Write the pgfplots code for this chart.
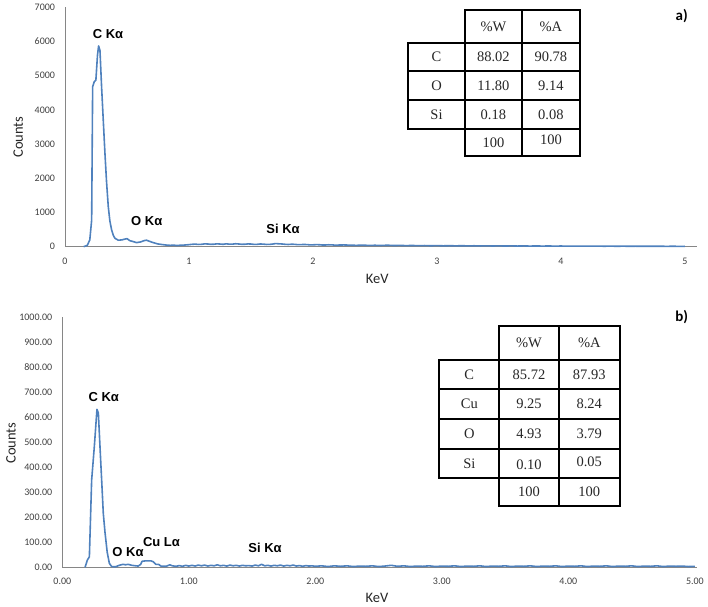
\documentclass[border=0pt]{standalone}
\usepackage{fontspec}
\setmainfont{Carlito}
\newfontfamily\arialb{Liberation Sans}[BoldFont=* Bold]
\newfontfamily\tabfont{Liberation Serif}
\usepackage{pgfplots}
\pgfplotsset{compat=1.18}

\definecolor{spec}{HTML}{4F81BD}
\definecolor{axgray}{HTML}{868686}
\definecolor{ticktext}{HTML}{404040}

\pgfplotsset{
  eds/.style={
    scale only axis,
    axis x line=bottom, axis y line=left,
    axis line style={-, draw=axgray, line width=1pt},
    major tick length=0pt,
    tick label style={font=\fontsize{10}{12}\selectfont, text=ticktext},
    /pgf/number format/assume math mode=true,
    /pgf/number format/1000 sep={},
    yticklabel style={xshift=-6.5pt},
    xticklabel style={yshift=-7.5pt},
    clip=false,
  },
  spectrum/.style={spec, line width=1.6pt, no marks, line join=round},
}

\begin{document}
\begin{tikzpicture}
\useasboundingbox (0pt,0pt) rectangle (708pt,-606pt);

% ---------------- a) ----------------
\begin{axis}[eds,
  at={(65pt,-246.7pt)}, anchor=south west,
  width=632pt, height=239.4pt,
  xmin=0, xmax=5.097, ymin=0, ymax=7000,
  xtick={0,1,2,3,4,5},
  ytick={0,1000,2000,3000,4000,5000,6000,7000},
]
\addplot[spectrum] coordinates {
 (0.15,0) (0.18,40) (0.20,200) (0.215,780) (0.223,4680) (0.236,4825)
 (0.249,4870) (0.262,5600) (0.271,5870) (0.282,5740) (0.295,4680)
 (0.31,3600) (0.322,2740) (0.335,1900) (0.349,1170) (0.362,750)
 (0.376,490) (0.39,330) (0.403,245) (0.43,190) (0.46,200) (0.48,220)
 (0.50,235) (0.524,175) (0.55,150) (0.577,120) (0.61,140) (0.64,180)
 (0.658,190) (0.68,160) (0.711,120) (0.75,80) (0.79,60) (0.825,45)
 (0.85,40) (0.875,48) (0.90,35) (0.925,42) (0.95,45) (0.975,52)
 (1.00,60) (1.025,70) (1.05,75) (1.075,66) (1.10,70) (1.125,82)
 (1.15,80) (1.175,70) (1.20,72) (1.225,84) (1.25,78) (1.275,70)
 (1.30,85) (1.325,74) (1.35,75) (1.375,86) (1.40,80) (1.425,70)
 (1.45,72) (1.475,82) (1.50,78) (1.525,68) (1.55,70) (1.575,80)
 (1.60,75) (1.625,66) (1.65,68) (1.675,78) (1.70,92) (1.725,84)
 (1.75,80) (1.775,70) (1.80,65) (1.825,72) (1.85,70) (1.875,60)
 (1.90,60) (1.925,66) (1.95,62) (1.975,54) (2.00,55) (2.025,60)
 (2.05,58) (2.075,50) (2.10,50) (2.125,56) (2.15,55) (2.175,46)
 (2.20,48) (2.25,52) (2.30,45) (2.35,40) (2.40,46) (2.45,38)
 (2.50,42) (2.55,36) (2.60,44) (2.65,35) (2.70,38) (2.75,32)
 (2.80,36) (2.85,30) (2.90,34) (2.95,28) (3.00,32) (3.05,26)
 (3.10,30) (3.15,25) (3.20,29) (3.25,24) (3.30,27) (3.35,22)
 (3.40,26) (3.45,21) (3.50,25) (3.55,20) (3.60,24) (3.65,19)
 (3.70,23) (3.75,18) (3.80,22) (3.85,18) (3.90,21) (3.95,17)
 (4.00,20) (4.05,16) (4.10,19) (4.15,15) (4.20,18) (4.25,15)
 (4.30,17) (4.35,14) (4.40,17) (4.45,13) (4.50,16) (4.55,13)
 (4.60,15) (4.65,12) (4.70,15) (4.75,12) (4.80,14) (4.85,11)
 (4.90,13) (4.95,11) (5.00,12)
};
\end{axis}

% ---------------- b) ----------------
\begin{axis}[eds,
  at={(62.3pt,-567.3pt)}, anchor=south west,
  width=634.7pt, height=250pt,
  xmin=0, xmax=5.017, ymin=0, ymax=1000,
  xtick={0,1,2,3,4,5},
  ytick={0,100,200,300,400,500,600,700,800,900,1000},
  /pgf/number format/fixed, /pgf/number format/fixed zerofill,
  /pgf/number format/precision=2,
]
\addplot[spectrum] coordinates {
 (0.18,0) (0.198,29) (0.214,42) (0.232,349) (0.253,482) (0.274,632)
 (0.285,617) (0.298,482) (0.311,350) (0.324,216) (0.338,137)
 (0.355,60) (0.372,16) (0.39,3) (0.42,2) (0.45,8) (0.48,12) (0.50,10)
 (0.52,12) (0.55,8) (0.58,6) (0.60,5) (0.62,12) (0.63,24) (0.66,26)
 (0.70,26) (0.72,22) (0.74,12) (0.76,12) (0.78,5) (0.82,4) (0.85,10)
 (0.87,6) (0.90,4) (0.925,7) (0.95,4) (0.975,8) (1.00,5) (1.025,8)
 (1.05,5) (1.075,9) (1.10,6) (1.125,9) (1.15,5) (1.175,8) (1.20,6)
 (1.225,10) (1.25,6) (1.275,8) (1.30,5) (1.325,9) (1.35,6) (1.375,8)
 (1.40,5) (1.425,8) (1.45,6) (1.475,7) (1.50,5) (1.525,9) (1.55,6)
 (1.575,12) (1.60,6) (1.625,8) (1.65,5) (1.675,8) (1.70,6) (1.725,9)
 (1.75,5) (1.775,8) (1.80,6) (1.825,9) (1.85,5) (1.875,7) (1.90,4)
 (1.925,7) (1.95,5) (1.975,6) (2.00,4) (2.05,6) (2.10,3) (2.15,6)
 (2.20,4) (2.25,6) (2.30,3) (2.35,5) (2.40,4) (2.45,6) (2.50,3)
 (2.55,5) (2.60,8) (2.65,4) (2.70,6) (2.75,3) (2.80,5) (2.85,4)
 (2.90,6) (2.95,3) (3.00,5) (3.05,4) (3.10,6) (3.15,3) (3.20,5)
 (3.25,4) (3.30,6) (3.35,3) (3.40,5) (3.45,4) (3.50,6) (3.55,3)
 (3.60,5) (3.65,4) (3.70,6) (3.75,3) (3.80,5) (3.85,4) (3.90,6)
 (3.95,3) (4.00,5) (4.05,4) (4.10,6) (4.15,3) (4.20,5) (4.25,4)
 (4.30,6) (4.35,3) (4.40,5) (4.45,4) (4.50,6) (4.55,3) (4.60,5)
 (4.65,4) (4.70,6) (4.75,3) (4.80,5) (4.85,4) (4.90,5) (4.95,3)
 (5.00,4)
};
\end{axis}

% axis titles, peak labels, tables
\begin{scope}[x=1pt, y=-1pt]
\tikzset{
  ax/.style={font=\fontsize{14.5}{16}\selectfont, text=black!85},
  pk/.style={font=\arialb\bfseries\fontsize{13}{15}\selectfont},
  cell/.style={font=\tabfont\fontsize{14.5}{16}\selectfont, text=black!85},
  tab/.style={line width=1.7pt, line cap=rect},
}
\node[ax, rotate=90] at (18.3,137) {Counts};
\node[ax] at (377.3,279) {KeV};
\node[ax, rotate=90] at (11,443) {Counts};
\node[ax] at (377,598.3) {KeV};

\node[pk] at (108,34) {C Kα};
\node[pk] at (146.7,221) {O Kα};
\node[pk] at (283,229) {Si Kα};
\node[pk] at (103.8,397.3) {C Kα};
\node[pk] at (128,551.7) {O Kα};
\node[pk] at (161.5,542.3) {Cu Lα};
\node[pk] at (265,548.3) {Si Kα};

\node[font=\bfseries\fontsize{15}{17}\selectfont] at (681.7,16) {a)};
\node[font=\bfseries\fontsize{15}{17}\selectfont] at (681.7,317) {b)};

% table a
\draw[tab] (465,10) rectangle (580,156);
\draw[tab] (408,43.3) rectangle (580,129);
\draw[tab] (521.7,10) -- (521.7,156);
\draw[tab] (465,10) -- (465,156);
\draw[tab] (408,71) -- (580,71);
\draw[tab] (408,100) -- (580,100);
\node[cell] at (493.4,26.7) {\%W};
\node[cell] at (550.9,26.7) {\%A};
\node[cell] at (436.5,57.2) {C};
\node[cell] at (493.4,57.2) {88.02};
\node[cell] at (550.9,57.2) {90.78};
\node[cell] at (436.5,85.5) {O};
\node[cell] at (493.4,85.5) {11.80};
\node[cell] at (550.9,85.5) {9.14};
\node[cell] at (436.5,114.5) {Si};
\node[cell] at (493.4,114.5) {0.18};
\node[cell] at (550.9,114.5) {0.08};
\node[cell] at (493.4,143) {100};
\node[cell] at (550.9,140) {100};

% table b
\draw[tab] (499.3,326) rectangle (620,506);
\draw[tab] (439.3,360) rectangle (620,478.3);
\draw[tab] (558.7,326) -- (558.7,506);
\draw[tab] (499.3,326) -- (499.3,506);
\draw[tab] (439.3,389.3) -- (620,389.3);
\draw[tab] (439.3,419) -- (620,419);
\draw[tab] (439.3,448.7) -- (620,448.7);
\node[cell] at (529,343) {\%W};
\node[cell] at (589.3,343) {\%A};
\node[cell] at (469.3,374.7) {C};
\node[cell] at (529,374.7) {85.72};
\node[cell] at (589.3,374.7) {87.93};
\node[cell] at (469.3,404.2) {Cu};
\node[cell] at (529,404.2) {9.25};
\node[cell] at (589.3,404.2) {8.24};
\node[cell] at (469.3,433.9) {O};
\node[cell] at (529,433.9) {4.93};
\node[cell] at (589.3,433.9) {3.79};
\node[cell] at (469.3,463.5) {Si};
\node[cell] at (529,465) {0.10};
\node[cell] at (589.3,462) {0.05};
\node[cell] at (529,492.2) {100};
\node[cell] at (589.3,492.2) {100};
\end{scope}
\end{tikzpicture}
\end{document}
